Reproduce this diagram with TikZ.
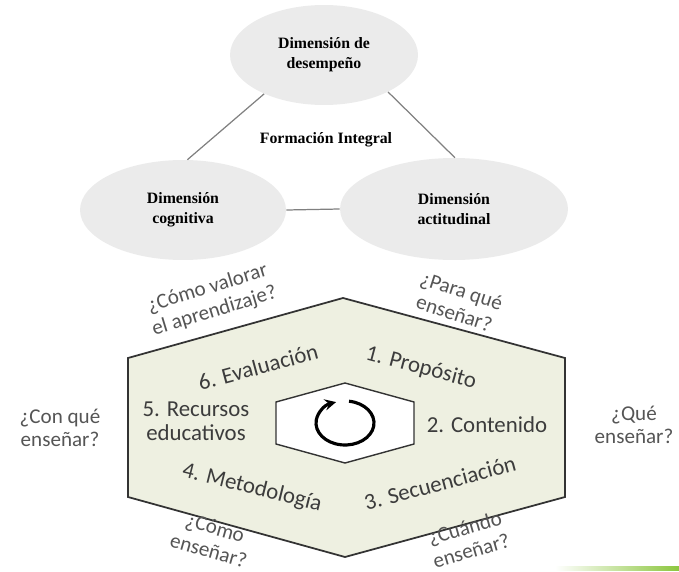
\documentclass[tikz,border=0pt]{standalone}
\usepackage{fontspec}
\setmainfont{Liberation Serif}
\newfontfamily\calibri{Carlito}
\usepackage{tikz}
\usetikzlibrary{arrows,positioning}
\usetikzlibrary{arrows,shapes,backgrounds}
\usetikzlibrary{calc}
\definecolor{dimgray}{HTML}{EBEBEB}
\definecolor{hexfill}{HTML}{EEF0E1}
\definecolor{ask}{HTML}{555555}
\definecolor{step}{HTML}{3C3C3C}
\definecolor{leaf}{HTML}{8CC63E}
\tikzstyle{dim}=[ellipse, fill=dimgray, inner sep=0pt, align=center,
font=\fontsize{9}{11.5}\selectfont\bfseries]
\tikzstyle{link}=[draw=gray, line width=0.7pt]
\tikzstyle{hexa}=[draw=black!80, fill=hexfill, line width=1pt]
\tikzstyle{stage}=[align=center, text=step, inner sep=1pt, font=\calibri\fontsize{13}{13.5}\selectfont]
\tikzstyle{question}=[align=center, text=ask, inner sep=1pt, font=\calibri\fontsize{12}{13.5}\selectfont]

\begin{document}
\begin{tikzpicture}[x=0.02cm,y=0.02cm]
\useasboundingbox (0,0) rectangle (679,-571);
% formacion integral
\node[dim, minimum width=3.76cm, minimum height=2cm] (des) at (324,-55) {Dimensión de\\desempeño};
\node[dim, minimum width=4.12cm, minimum height=2cm] (cog) at (183,-210) {Dimensión\\cognitiva};
\node[dim, minimum width=4.56cm, minimum height=2.04cm] (act) at (454,-209) {Dimensión\\actitudinal};
\node[font=\fontsize{9}{11}\selectfont\bfseries] (fi) at (326,-140) {Formación Integral};
\draw[link](des.213) -- (cog.85); \draw[link](des.-30) -- (act.89);
\draw[link](cog.east) -- (act.west);
% hexagono
\filldraw[hexa] (343,-298) -- (565,-358) -- (565,-497) -- (345,-557) -- (128,-497) -- (128,-358) -- cycle;
\filldraw[draw=black!80, fill=white, line width=0.8pt] (345,-383) -- (414,-402) -- (414,-444) -- (345,-463) -- (276,-444) -- (276,-402) -- cycle;
\coordinate (loop) at (345,-423);
\draw[line width=1.8pt, -stealth] ([shift={(82:29 and 22)}]loop) arc[start angle=82, end angle=-252, x radius=29, y radius=22];
\node[stage, rotate=15] (s6) at (258,-367) {6. Evaluación};
\node[stage, rotate=-15] (s1) at (421,-368) {1. Propósito};
\node[stage] (s5) at (196,-421) {5. Recursos\\educativos};
\node[stage] (s2) at (487,-425) {2. Contenido};
\node[stage, rotate=-14] (s4) at (252,-488) {4. Metodología};
\node[stage, rotate=15] (s3) at (440,-483) {3. Secuenciación};
\node[question, rotate=17] (q6) at (211,-300) {¿Cómo valorar\\el aprendizaje?};
\node[question, rotate=-18] (q1) at (458,-302) {¿Para qué\\enseñar?};
\node[question] (q5) at (60,-428) {¿Con qué\\enseñar?};
\node[question] (q2) at (634,-425) {¿Qué\\enseñar?};
\node[question, rotate=-16] (q4) at (212,-539) {¿Cómo\\enseñar?};
\node[question, rotate=16] (q3) at (468,-539) {¿Cuándo\\enseñar?};
\shade[left color=white, right color=leaf] (555,-566) rectangle (679,-570);
\end{tikzpicture}
\end{document}
